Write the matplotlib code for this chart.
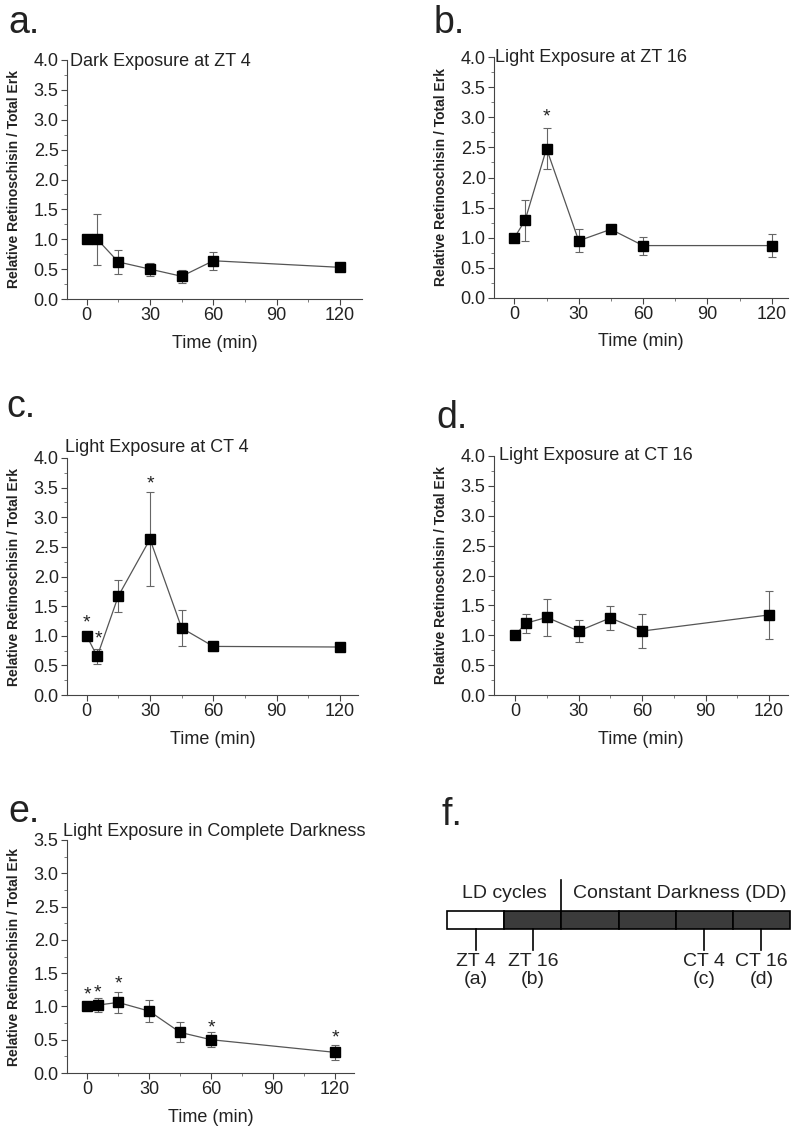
import matplotlib
matplotlib.use("Agg")
import matplotlib.pyplot as plt
from matplotlib.ticker import MultipleLocator

plt.rcParams['font.family'] = ['Liberation Sans', 'DejaVu Sans']

# time points (min)
times = [0, 5, 15, 30, 45, 60, 120]

# panel a: dark exposure at ZT 4
a_mean = [1.0, 1.0, 0.62, 0.50, 0.38, 0.64, 0.53]
a_err = [0.0, 0.43, 0.20, 0.11, 0.11, 0.15, 0.03]

# panel b: light exposure at ZT 16
b_mean = [1.0, 1.29, 2.48, 0.95, 1.14, 0.87, 0.87]
b_err = [0.0, 0.34, 0.34, 0.19, 0.07, 0.15, 0.19]
b_stars = [(15, 3.0)]

# panel c: light exposure at CT 4
c_mean = [1.0, 0.65, 1.67, 2.63, 1.13, 0.82, 0.81]
c_err = [0.0, 0.12, 0.27, 0.79, 0.30, 0.08, 0.02]
c_stars = [(0, 1.22), (5.5, 0.95), (30, 3.56)]

# panel d: light exposure at CT 16
d_mean = [1.0, 1.20, 1.30, 1.07, 1.29, 1.07, 1.34]
d_err = [0.0, 0.16, 0.31, 0.18, 0.20, 0.29, 0.40]

# panel e: light exposure in complete darkness
e_mean = [1.0, 1.02, 1.06, 0.93, 0.61, 0.50, 0.31]
e_err = [0.0, 0.11, 0.16, 0.17, 0.15, 0.11, 0.11]
e_stars = [(0, 1.17), (5, 1.20), (15, 1.33), (60, 0.68), (120, 0.53)]

# panel f: schedule
seg_colors = ['white', '#3b3b3b', '#3b3b3b', '#3b3b3b', '#3b3b3b', '#3b3b3b']
mark_pos = [0.5, 1.5, 4.5, 5.5]
mark_names = ['ZT 4', 'ZT 16', 'CT 4', 'CT 16']
mark_panels = ['(a)', '(b)', '(c)', '(d)']

W, H = 800, 1130
txt = '#222222'


def frac(left, top, right, bottom):
    return [left / W, 1 - bottom / H, (right - left) / W, (bottom - top) / H]


def panel(fig, box, xlim, mean, err, title, title_xy, stars, ymax, letter,
          letter_xy):
    left, top, right, bottom = box
    w, h = right - left, bottom - top
    ax = fig.add_axes(frac(*box))
    ax.errorbar(times, mean, yerr=err, color='#555555', lw=0.9, capsize=3,
                elinewidth=0.8, ecolor='#666666', capthick=0.8,
                marker='s', ms=7.5, mfc='black', mec='black', zorder=3)
    for x, y in stars:
        ax.text(x, y, '*', ha='center', va='center', fontsize=14, color=txt)
    ax.set_xlim(*xlim)
    ax.set_ylim(0, ymax)
    ax.xaxis.set_major_locator(MultipleLocator(30))
    ax.xaxis.set_minor_locator(MultipleLocator(15))
    ax.yaxis.set_major_locator(MultipleLocator(0.5))
    ax.yaxis.set_minor_locator(MultipleLocator(0.25))
    ax.yaxis.set_major_formatter(plt.FormatStrFormatter('%.1f'))
    for s in ['top', 'right']:
        ax.spines[s].set_visible(False)
    for s in ['left', 'bottom']:
        ax.spines[s].set_color('#444444')
        ax.spines[s].set_linewidth(0.8)
    ax.tick_params(which='major', length=4, width=0.8, color='#444444',
                   labelsize=13, labelcolor=txt, pad=2)
    ax.tick_params(which='minor', length=2, width=0.6, color='#666666')
    ax.set_xlabel('Time (min)', fontsize=13, color=txt, va='center')
    ax.xaxis.set_label_coords(0.5, -44 / h)
    ax.set_ylabel('Relative Retinoschisin / Total Erk', fontsize=10,
                  fontweight='bold', color=txt, va='center')
    ax.yaxis.set_label_coords(-53 / w, 0.5)
    fig.text(title_xy[0] / W, 1 - title_xy[1] / H, title, ha='left',
             va='center', fontsize=13, color=txt)
    fig.text(letter_xy[0] / W, 1 - letter_xy[1] / H, letter, fontsize=27,
             color=txt, ha='left', va='baseline')
    return ax


fig = plt.figure(figsize=(8, 11.3), dpi=100)

panel(fig, (67, 60, 362, 299), (-9.3, 130.4), a_mean, a_err,
      'Dark Exposure at ZT 4', (70, 61), [], 4.0, 'a.', (8, 33))
panel(fig, (494, 57, 788, 298), (-9.5, 127.6), b_mean, b_err,
      'Light Exposure at ZT 16', (495, 57), b_stars, 4.0, 'b.', (434, 33))
panel(fig, (67, 458, 358, 695), (-9.3, 128.5), c_mean, c_err,
      'Light Exposure at CT 4', (65, 448), c_stars, 4.0, 'c.', (6, 417))
panel(fig, (494, 456, 788, 695), (-10, 129), d_mean, d_err,
      'Light Exposure at CT 16', (499, 455), [], 4.0, 'd.', (436, 428))
panel(fig, (67, 840, 354, 1073), (-9.8, 129.2), e_mean, e_err,
      'Light Exposure in Complete Darkness', (63, 832), e_stars, 3.5, 'e.',
      (8, 822))

# panel f: LD / DD schedule diagram
axf = fig.add_axes(frac(447, 860, 790, 1000))
axf.set_xlim(0, 6)
axf.set_ylim(140, 0)
axf.axis('off')
for i, c in enumerate(seg_colors):
    axf.add_patch(plt.Rectangle((i, 51), 1, 18, facecolor=c,
                                edgecolor='black', lw=1.2, clip_on=False))
axf.plot([2, 2], [20, 51], color='black', lw=1.2, clip_on=False)
for x, name, p in zip(mark_pos, mark_names, mark_panels):
    axf.plot([x, x], [69, 90], color='black', lw=1.2, clip_on=False)
    axf.text(x, 101, name, ha='center', va='center', fontsize=14, color=txt)
    axf.text(x, 120, p, ha='center', va='center', fontsize=14, color=txt)
axf.text(1.0, 33, 'LD cycles', ha='center', va='center', fontsize=14, color=txt)
axf.text(4.07, 33, 'Constant Darkness (DD)', ha='center', va='center',
         fontsize=14, color=txt)
fig.text(442 / W, 1 - 825 / H, 'f.', fontsize=27, color=txt, ha='left',
         va='baseline')

fig.savefig('out.png', dpi=100, facecolor='white')
